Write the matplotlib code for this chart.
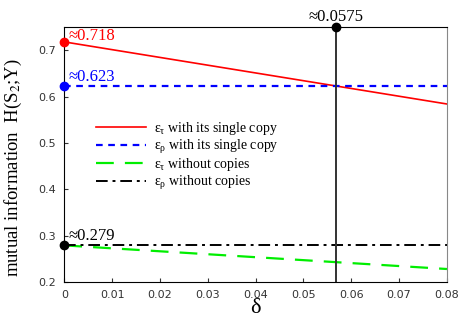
import matplotlib
matplotlib.use('Agg')
import matplotlib.pyplot as plt

# -------------------- data --------------------
delta = [0.0, 0.08]
tau_single = [0.718, 0.584]
rho_single = [0.623, 0.623]
tau_nocopy = [0.279, 0.228]
rho_nocopy = [0.279, 0.279]
delta_cross = 0.0568          # where the vertical line sits in the picture
delta_cross_label = '\u22480.0575'
y_top = 0.75

xticks = [0, 0.01, 0.02, 0.03, 0.04, 0.05, 0.06, 0.07, 0.08]
xticklabels = ['0', '0.01', '0.02', '0.03', '0.04', '0.05', '0.06', '0.07', '0.08']
yticks = [0.2, 0.3, 0.4, 0.5, 0.6, 0.7]
# ----------------------------------------------

plt.rcParams['font.family'] = ['Liberation Serif', 'DejaVu Serif']
plt.rcParams['mathtext.fontset'] = 'stix'

fig = plt.figure(figsize=(4.69, 3.26), dpi=100)
ax = fig.add_axes([0.137, 0.135, 0.816, 0.782])

ax.plot(delta, tau_single, color='#ff0000', lw=1.2,
        label='$\\mathregular{\u03b5_{\u03c4}}$ with its single copy')
ax.plot(delta, rho_single, color='#0000ff', lw=1.6, ls=(0, (3, 2.5)),
        label='$\\mathregular{\u03b5_{\u03c1}}$ with its single copy')
ax.plot(delta, tau_nocopy, color='#00ee00', lw=1.6, ls=(0, (8, 5)),
        label='$\\mathregular{\u03b5_{\u03c4}}$ without copies')
ax.plot(delta, rho_nocopy, color='black', lw=1.4, ls=(0, (6, 2.5, 1.5, 2.5)),
        label='$\\mathregular{\u03b5_{\u03c1}}$ without copies')

ax.plot([delta_cross, delta_cross], [0.2, y_top], color='#333333', lw=1.4)

ax.plot([0], [tau_single[0]], 'o', color='#ff0000', ms=6, clip_on=False, zorder=5)
ax.plot([0], [rho_single[0]], 'o', color='#0000ff', ms=6, clip_on=False, zorder=5)
ax.plot([0], [rho_nocopy[0]], 'o', color='black', ms=6, clip_on=False, zorder=5)
ax.plot([delta_cross], [y_top], 'o', color='black', ms=6, clip_on=False, zorder=5)

ax.text(0.0009, tau_single[0] + 0.003, '\u2248%.3f' % tau_single[0], color='#ff0000',
        fontsize=12, va='baseline', ha='left')
ax.text(0.0009, rho_single[0] + 0.011, '\u2248%.3f' % rho_single[0], color='#0000ff',
        fontsize=12, va='baseline', ha='left')
ax.text(0.0009, rho_nocopy[0] + 0.011, '\u2248%.3f' % rho_nocopy[0], color='black',
        fontsize=12, va='baseline', ha='left')
ax.text(delta_cross, y_top + 0.013, delta_cross_label, color='black',
        fontsize=12, va='baseline', ha='center', clip_on=False)

ax.set_xlim(0, 0.08)
ax.set_ylim(0.2, y_top)
ax.set_xticks(xticks)
ax.set_xticklabels(xticklabels)
ax.set_yticks(yticks)
ax.tick_params(direction='in', length=3, labelsize=8, colors='#333333', pad=6)
for lab in ax.get_xticklabels() + ax.get_yticklabels():
    lab.set_family('DejaVu Sans')
ax.spines['right'].set_color('#888888')

ax.set_xlabel('\u03b4', fontsize=16, labelpad=-1)
ax.set_ylabel('mutual information  H(S$_2$;Y)', fontsize=13.5)
ax.yaxis.set_label_coords(-0.105, 0.45)

ax.legend(loc='upper left', bbox_to_anchor=(0.05, 0.685), frameon=False,
          fontsize=10, handlelength=3.6, labelspacing=0.05, handletextpad=0.6)

fig.savefig('out.png', dpi=100)
